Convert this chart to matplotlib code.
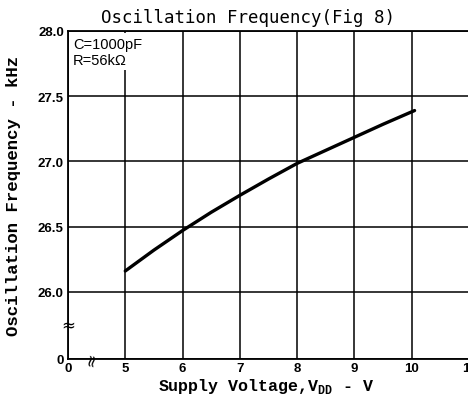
import numpy as np
import matplotlib.pyplot as plt

# curve
volts = [5.0, 5.5, 6.0, 6.5, 7.0, 7.5, 8.0, 8.5, 9.0, 9.5, 10.05]
freq_khz = [26.16, 26.32, 26.47, 26.61, 26.74, 26.865, 26.985, 27.085, 27.185, 27.285, 27.39]

x_ticks = [0, 5, 6, 7, 8, 9, 10, 11]
y_ticks = [0, 26.0, 26.5, 27.0, 27.5, 28.0]
y_ticklabels = ['0', '26.0', '26.5', '27.0', '27.5', '28.0']


# broken axes: 0..5 V squeezed into one division, 0..26 kHz into one
def xf(x):
    x = np.asarray(x, dtype=float)
    return np.where(x < 5, x / 5.0, x - 4.0)


def xi(v):
    v = np.asarray(v, dtype=float)
    return np.where(v < 1, v * 5.0, v + 4.0)


def yf(y):
    y = np.asarray(y, dtype=float)
    return np.where(y < 26, 25.485 + y * (0.515 / 26.0), y)


def yi(v):
    v = np.asarray(v, dtype=float)
    return np.where(v < 26, (v - 25.485) * 26.0 / 0.515, v)


fig = plt.figure(figsize=(4.68, 4.02), dpi=100)
ax = fig.add_axes([68 / 468, 1 - 360 / 402, 469 / 468 - 68 / 468, 328 / 402])
ax.set_xscale('function', functions=(xf, xi))
ax.set_yscale('function', functions=(yf, yi))
ax.set_xlim(0, 11)
ax.set_ylim(0, 28.0)

ax.plot(volts, freq_khz, color='black', lw=2.4, solid_capstyle='round', zorder=3)

ax.set_xticks(x_ticks)
ax.set_xticklabels([str(t) for t in x_ticks])
ax.set_yticks(y_ticks)
ax.set_yticklabels(y_ticklabels)
ax.minorticks_off()
ax.tick_params(length=0, pad=3)
ax.tick_params(axis='x', pad=2)
for lab in ax.get_xticklabels() + ax.get_yticklabels():
    lab.set_fontfamily('Liberation Sans')
    lab.set_fontweight('bold')
    lab.set_fontsize(9.5)

ax.grid(True, color='black', lw=1.1)
for s in ['left', 'bottom', 'top']:
    ax.spines[s].set_linewidth(1.3)
ax.spines['right'].set_visible(False)

# parameter note with white backing hiding the grid
ax.text(0.45, 27.955, 'C=1000pF\nR=56k\u03a9', fontsize=10.5, family='Liberation Sans',
        va='top', ha='left', linespacing=1.15,
        bbox=dict(facecolor='white', edgecolor='none', pad=2.5), zorder=4)

# axis break marks
ax.text(0, 13.5, '\u2248', fontsize=12, ha='center', va='center', clip_on=False, zorder=5)
ax.text(2, 0, '\u2248', fontsize=12, ha='center', va='center', rotation=80,
        clip_on=False, zorder=5)

fig.text(248 / 468, 1 - 18 / 402, 'Oscillation Frequency(Fig 8)', family='DejaVu Sans Mono',
         fontsize=12.5, ha='center', va='center')
fig.text(14 / 468, 1 - 196 / 402, 'Oscillation Frequency - kHz', family='Liberation Mono',
         fontweight='bold', fontsize=12.5, rotation=90, ha='center', va='center')
fig.text(266 / 468, 1 - 387 / 402, 'Supply Voltage,V$_{\\mathregular{DD}}$ - V',
         family='Liberation Mono', fontweight='bold', fontsize=12, ha='center', va='center')

plt.savefig('out.png', dpi=100)
